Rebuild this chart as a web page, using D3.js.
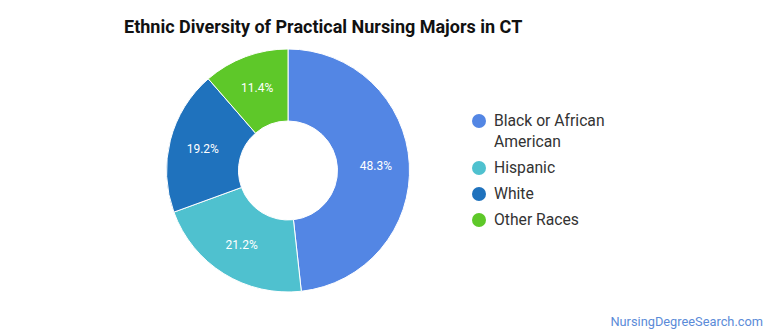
<!DOCTYPE html>
<html><head><meta charset="utf-8">
<script src="https://cdn.jsdelivr.net/npm/d3@7"></script>
<style>body{margin:0;background:#fff;font-family:Roboto,sans-serif}</style>
</head><body><svg id="c" width="770" height="335"></svg>
<script>
const categories = ["Black or African American", "Hispanic", "White", "Other Races"];
const values = [48.3, 21.2, 19.2, 11.4];
const colors = ["#5386e4", "#4fc1cf", "#1f72bd", "#5ec829"];
const legendLines = [["Black or African", "American"], ["Hispanic"], ["White"], ["Other Races"]];

const svg = d3.select("#c");
svg.append("text").attr("x", 124).attr("y", 33).attr("font-size", 18).attr("font-weight", "bold")
  .attr("fill", "#111").text("Ethnic Diversity of Practical Nursing Majors in CT");

const cx = 288, cy = 170.5, R = 121.5, r = 49.5;
const pie = d3.pie().sort(null).value(d => d)(values);
const arc = d3.arc().innerRadius(r).outerRadius(R);
const labelArc = d3.arc().innerRadius(88).outerRadius(88);
const g = svg.append("g").attr("transform", `translate(${cx},${cy})`);
g.selectAll("path").data(pie).join("path").attr("d", arc)
  .attr("fill", (d, i) => colors[i]).attr("stroke", "#fff").attr("stroke-width", 1);
g.selectAll("text").data(pie).join("text")
  .attr("transform", d => `translate(${labelArc.centroid(d)})`)
  .attr("text-anchor", "middle").attr("dy", "0.35em").attr("font-size", 12).attr("fill", "#fff")
  .text(d => d.data.toFixed(1) + "%");

const ys = [121, 168, 194, 220];
const lg = svg.append("g");
legendLines.forEach((lines, i) => {
  lg.append("circle").attr("cx", 479).attr("cy", ys[i]).attr("r", 7).attr("fill", colors[i]);
  lines.forEach((t, j) => {
    lg.append("text").attr("x", 494).attr("y", ys[i] + j * 21).attr("dy", "0.35em")
      .attr("font-size", 15.7).attr("fill", "#333").text(t);
  });
});

svg.append("text").attr("x", 763).attr("y", 326).attr("text-anchor", "end").attr("font-size", 12.8)
  .attr("fill", "#5b8bd8").text("NursingDegreeSearch.com");
</script></body></html>
